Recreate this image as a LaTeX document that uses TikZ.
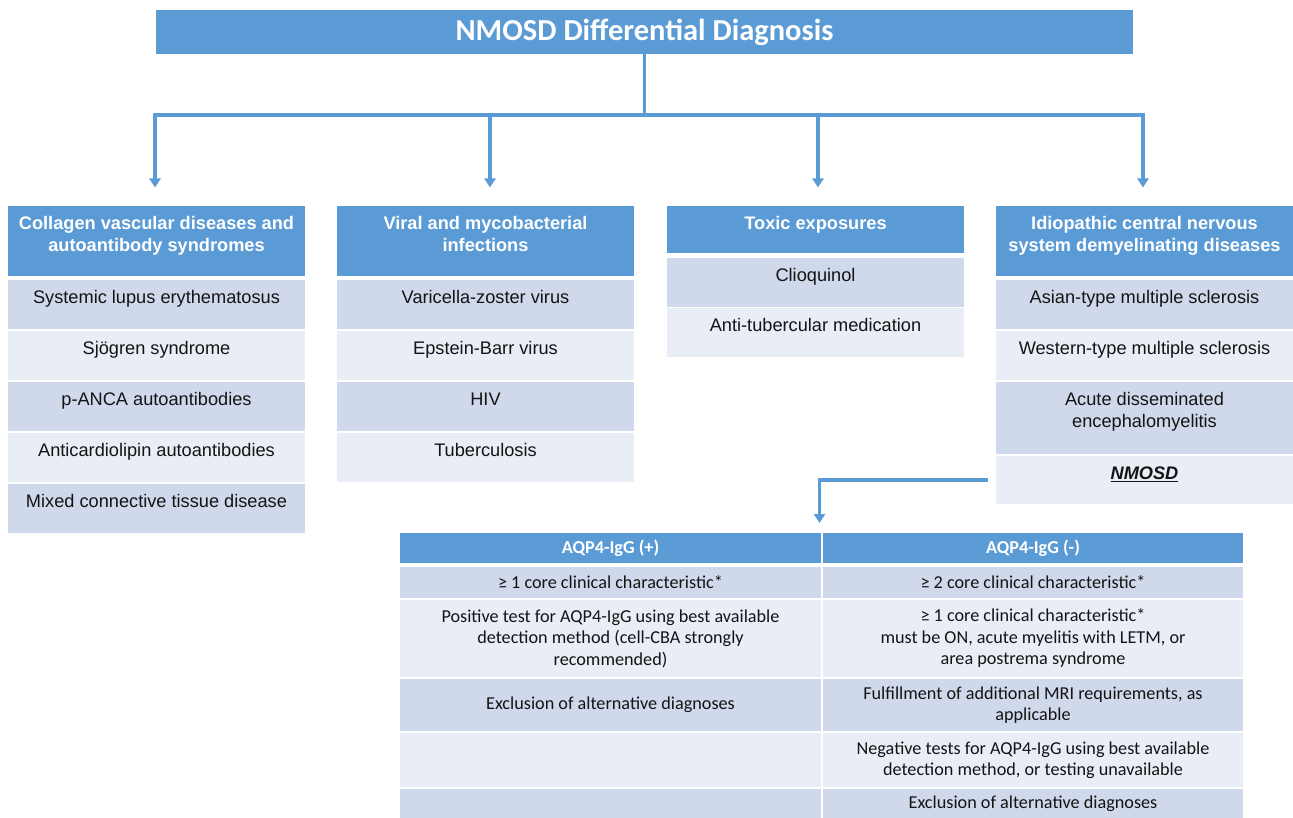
\documentclass[tikz,border=0pt]{standalone}
\usepackage{fontspec}
\setmainfont{Liberation Sans}
\newfontfamily\calfont{Carlito}
\usetikzlibrary{arrows.meta}
\definecolor{hblue}{RGB}{91,155,213}
\definecolor{rowD}{RGB}{208,217,235}
\definecolor{rowL}{RGB}{233,237,246}
\definecolor{ink}{RGB}{20,20,20}
\tikzset{
  box/.style={inner sep=0pt, outer sep=0pt, anchor=north west},
  hcell/.style={box, fill=hblue},
  dcell/.style={box, fill=rowD},
  lcell/.style={box, fill=rowL},
  ctext/.style={anchor=north, yshift=-10.5pt, align=center, inner sep=0pt,
    font=\fontsize{18.2}{21.5}\selectfont, text=ink},
  htext/.style={ctext, text=white, font=\fontsize{18.2}{21.5}\selectfont\bfseries},
  ttext/.style={align=center, font=\calfont\fontsize{18.2}{21.5}\selectfont, text=ink},
  thtext/.style={align=center, font=\calfont\bfseries\fontsize{18.2}{21.5}\selectfont, text=white},
  conn/.style={draw=hblue, line width=3.2pt},
  arr/.style={conn, -{Triangle[width=11pt,length=9pt]}},
}
% #1 name, #2 cell style, #3 text style, #4 x, #5 y, #6 height, #7 text
\newcommand{\colcell}[7]{%
  \node[#2, minimum width=297pt, minimum height=#6pt] (#1) at (#4,#5) {};
  \node[#3] (#1-t) at (#1.north) {#7};
}
\begin{document}
\begin{tikzpicture}[x=1pt,y=-1pt]
\useasboundingbox (0,0) rectangle (1293,818);

% title
\node[hcell, minimum width=977pt, minimum height=44pt, anchor=north west,
  text=white, font=\calfont\bfseries\fontsize{30.5}{36}\selectfont] (title) at (156,10) {NMOSD Differential Diagnosis};

% column 1
\colcell{h1}{hcell}{htext}{8}{206}{70}{Collagen vascular diseases and\\autoantibody syndromes}
\colcell{c1a}{dcell}{ctext}{8}{280}{49}{Systemic lupus erythematosus}
\colcell{c1b}{lcell}{ctext}{8}{331}{49}{Sjögren syndrome}
\colcell{c1c}{dcell}{ctext}{8}{382}{49}{p-ANCA autoantibodies}
\colcell{c1d}{lcell}{ctext}{8}{433}{49}{Anticardiolipin autoantibodies}
\colcell{c1e}{dcell}{ctext}{8}{484}{49}{Mixed connective tissue disease}

% column 2
\colcell{h2}{hcell}{htext}{337}{206}{70}{Viral and mycobacterial\\infections}
\colcell{c2a}{dcell}{ctext}{337}{280}{49}{Varicella-zoster virus}
\colcell{c2b}{lcell}{ctext}{337}{331}{49}{Epstein-Barr virus}
\colcell{c2c}{dcell}{ctext}{337}{382}{49}{HIV}
\colcell{c2d}{lcell}{ctext}{337}{433}{49}{Tuberculosis}

% column 3
\colcell{h3}{hcell}{htext}{667}{206}{47}{Toxic exposures}
\colcell{c3a}{dcell}{ctext}{667}{258}{49}{Clioquinol}
\colcell{c3b}{lcell}{ctext}{667}{308}{49}{Anti-tubercular medication}

% column 4
\colcell{h4}{hcell}{htext}{996}{206}{70}{Idiopathic central nervous\\system demyelinating diseases}
\colcell{c4a}{dcell}{ctext}{996}{280}{49}{Asian-type multiple sclerosis}
\colcell{c4b}{lcell}{ctext}{996}{331}{49}{Western-type multiple sclerosis}
\colcell{c4c}{dcell}{ctext}{996}{382}{72}{Acute disseminated\\encephalomyelitis}
\colcell{c4d}{lcell}{ctext}{996}{456}{48}{\underline{\textbf{\textit{NMOSD}}}}

% table
\node[hcell, thtext, minimum width=421pt, minimum height=30pt] (th1) at (400,533) {AQP4-IgG (+)};
\node[hcell, thtext, minimum width=420pt, minimum height=30pt] (th2) at (823,533) {AQP4-IgG (-)};

\node[dcell, ttext, minimum width=421pt, minimum height=31pt] (l1) at (400,567) {≥ 1 core clinical characteristic*};
\node[dcell, ttext, minimum width=420pt, minimum height=31pt] (r1) at (823,567) {≥ 2 core clinical characteristic*};

\node[lcell, ttext, minimum width=421pt, minimum height=77pt] (l2) at (400,600) {Positive test for AQP4-IgG using best available\\detection method (cell-CBA strongly\\recommended)};
\node[lcell, ttext, minimum width=420pt, minimum height=77pt] (r2) at (823,600) {≥ 1 core clinical characteristic*\\must be ON, acute myelitis with LETM, or\\area postrema syndrome};

\node[dcell, ttext, minimum width=421pt, minimum height=52pt] (l3) at (400,679) {Exclusion of alternative diagnoses};
\node[dcell, ttext, minimum width=420pt, minimum height=52pt] (r3) at (823,679) {Fulfillment of additional MRI requirements, as\\applicable};

\node[lcell, ttext, minimum width=421pt, minimum height=54pt] (l4) at (400,733) {};
\node[lcell, ttext, minimum width=420pt, minimum height=54pt] (r4) at (823,733) {Negative tests for AQP4-IgG using best available\\detection method, or testing unavailable};

\node[dcell, ttext, minimum width=421pt, minimum height=29pt] (l5) at (400,789) {};
\node[dcell, ttext, minimum width=420pt, minimum height=29pt] (r5) at (823,789) {Exclusion of alternative diagnoses};

% connectors
\path (title.south) ++(0,61) coordinate (bar);
\coordinate (e1) at (155,187.5);
\coordinate (e2) at (490,187.5);
\coordinate (e3) at (818,187.5);
\coordinate (e4) at (1143,187.5);
\draw[conn] (title.south) -- (bar);
\draw[arr] (bar) -| (e1);
\draw[arr] (bar) -| (e2);
\draw[arr] (bar) -| (e3);
\draw[arr] (bar) -| (e4);
\draw[arr] ([xshift=-8pt]c4d.west) -| ([xshift=-1.5pt,yshift=10pt]th1.north east);
\end{tikzpicture}
\end{document}
